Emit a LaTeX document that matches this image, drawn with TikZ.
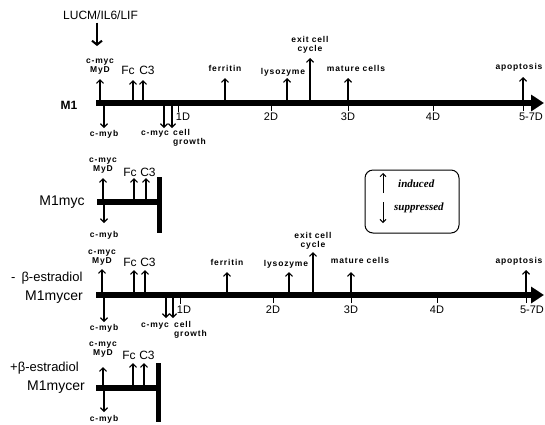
\documentclass[tikz,border=0pt]{standalone}
\usepackage{fontspec}
\setmainfont{Liberation Sans}
\newfontfamily\lserif{Liberation Serif}
\usetikzlibrary{arrows.meta}
\begin{document}
\begin{tikzpicture}[x=1pt,y=-1pt,
  bar/.style={line width=6pt},
  tl/.style={line width=6pt,-{Triangle[length=13pt,width=16pt]}},
  stopbar/.style={line width=5pt},
  ar/.style={line width=1.2pt,-{Straight Barb[length=3.5pt,width=7pt]}},
  tk/.style={line width=0.8pt},
  sm/.style={font=\fontsize{8.5}{9}\selectfont\bfseries\addfontfeature{LetterSpace=10},inner sep=0pt,align=center},
  big/.style={font=\fontsize{14}{14}\selectfont,inner sep=0pt},
  mid/.style={font=\fontsize{12}{12}\selectfont,inner sep=0pt},
  est/.style={font=\fontsize{13}{13}\selectfont,inner sep=0pt,anchor=west},
  day/.style={font=\fontsize{11}{11}\selectfont,inner sep=0pt},
  leg/.style={font=\fontsize{11}{11}\selectfont\lserif\itshape\bfseries,inner sep=0pt,anchor=west}]
\useasboundingbox (0,0) rectangle (545,424);

% ---------------- Row 1: M1 ----------------
\node[mid,anchor=west] (lucm) at (63,15) {LUCM/IL6/LIF};
\coordinate (lucmE) at (97,46);
\draw[line width=2pt,-{Straight Barb[length=4pt,width=10pt]}] (lucm.south -| lucmE) ++(0,3) -- (lucmE);
\node[font=\fontsize{12}{12}\selectfont\bfseries,inner sep=0pt] (m1) at (69,105) {M1};
\coordinate (aS) at (96,103); \coordinate (aE) at (544,103);
\draw[tl] (aS) -- (aE);
% up arrows
\node[sm] (a1) at (100,67) {c-myc\\MyD};
\draw[ar] (100,100) -- (100,79);
\node[mid] (afc) at (128,70) {Fc};
\node[mid] (ac3) at (147,70) {C3};
\draw[ar] (133,100) -- (133,80);
\draw[ar] (143,100) -- (143,80);
\node[sm] (afer) at (225,68) {ferritin};
\draw[ar] (225,100) -- (225,78);
\node[sm] (alys) at (283,72) {lysozyme};
\draw[ar] (287,100) -- (287,78);
\node[sm] (aexit) at (310,45) {exit cell\\cycle};
\draw[ar] (310,100) -- (310,58);
\node[sm] (amat) at (356,68) {mature cells};
\draw[ar] (348,100) -- (348,78);
\node[sm] (aapo) at (519,67) {apoptosis};
\draw[ar] (523,100) -- (523,77);
% down arrows
\node[sm] (amyb) at (104,134) {c-myb};
\draw[ar] (104,106) -- (104,128);
\node[sm] (amyc) at (155,134) {c-myc};
\draw[ar] (164,106) -- (164,128);
\node[sm,anchor=north west,align=left] (acell) at (173,129) {cell\\growth};
\draw[ar] (172,106) -- (172,128);
% ticks
\draw[tk] (178,106) -- (178,112); \node[day] (a1d) at (183,117) {1D};
\draw[tk] (271,106) -- (271,111); \node[day] (a2d) at (271,117) {2D};
\draw[tk] (348,106) -- (348,111); \node[day] (a3d) at (348,117) {3D};
\draw[tk] (433,106) -- (433,111); \node[day] (a4d) at (433,117) {4D};
\draw[tk] (523,106) -- (523,111); \node[day] (a5d) at (531,117) {5-7D};

% ---------------- Row 2: M1myc ----------------
\node[big] (m1myc) at (62,202) {M1myc};
\draw[bar] (97,202) -- (159,202);
\draw[stopbar] (159,177) -- (159,233);
\node[sm] (b1) at (103,166) {c-myc\\MyD};
\draw[ar] (103,199) -- (103,178);
\node[mid] (bfc) at (130,172) {Fc};
\node[mid] (bc3) at (148,172) {C3};
\draw[ar] (134,199) -- (134,178);
\draw[ar] (146,199) -- (146,178);
\node[sm] (bmyb) at (104,235) {c-myb};
\draw[ar] (104,205) -- (104,223);

% ---------------- Legend ----------------
\draw[line width=1pt,rounded corners=8pt] (365,170) rectangle (459,233);
\draw[line width=1pt,-{Straight Barb[length=3pt,width=6pt]}] (383,193) -- (383,173);
\draw[line width=1pt,-{Straight Barb[length=3pt,width=6pt]}] (383,202) -- (383,223);
\node[leg] (lind) at (398,184) {induced};
\node[leg] (lsup) at (394,208) {suppressed};

% ---------------- Row 3: -estradiol M1mycer ----------------
\node[est] (cminus) at (11,278) {-\hspace{6pt}β-estradiol};
\node[big] (m1mycer) at (54,297) {M1mycer};
\draw[tl] (96,295) -- (544,295);
\node[sm] (c1) at (102,258) {c-myc\\MyD};
\draw[ar] (102,292) -- (102,269);
\node[mid] (cfc) at (130,262) {Fc};
\node[mid] (cc3) at (148,262) {C3};
\draw[ar] (134,292) -- (134,270);
\draw[ar] (145,292) -- (145,270);
\node[sm] (cfer) at (227,262) {ferritin};
\draw[ar] (227,292) -- (227,272);
\node[sm] (clys) at (286,264) {lysozyme};
\draw[ar] (289,292) -- (289,272);
\node[sm] (cexit) at (313,241) {exit cell\\cycle};
\draw[ar] (313,292) -- (313,252);
\node[sm] (cmat) at (360,260) {mature cells};
\draw[ar] (351,292) -- (351,272);
\node[sm] (capo) at (519,261) {apoptosis};
\draw[ar] (526,292) -- (526,270);
\node[sm] (cmyb) at (104,328) {c-myb};
\draw[ar] (104,298) -- (104,322);
\node[sm] (cmyc) at (155,326) {c-myc};
\draw[ar] (166,298) -- (166,318);
\node[sm,anchor=north west,align=left] (ccell) at (174,321) {cell\\growth};
\draw[ar] (173,298) -- (173,318);
\draw[tk] (180,298) -- (180,304); \node[day] (c1d) at (184,310) {1D};
\draw[tk] (273,298) -- (273,303); \node[day] (c2d) at (273,310) {2D};
\draw[tk] (351,298) -- (351,303); \node[day] (c3d) at (351,310) {3D};
\draw[tk] (437,298) -- (437,303); \node[day] (c4d) at (437,310) {4D};
\draw[tk] (526,298) -- (526,303); \node[day] (c5d) at (532,310) {5-7D};

% ---------------- Row 4: +estradiol M1mycer ----------------
\node[est] (dplus) at (10,368) {+β-estradiol};
\node[big] (m1mycer2) at (56,387) {M1mycer};
\draw[bar] (96,388) -- (158,388);
\draw[stopbar] (158,363) -- (158,422);
\node[sm] (d1) at (103,350) {c-myc\\MyD};
\draw[ar] (103,385) -- (103,367);
\node[mid] (dfc) at (129,355) {Fc};
\node[mid] (dc3) at (147,355) {C3};
\draw[ar] (133,385) -- (133,363);
\draw[ar] (144,385) -- (144,363);
\node[sm] (dmyb) at (104,419) {c-myb};
\draw[ar] (104,391) -- (104,412);
\end{tikzpicture}
\end{document}
